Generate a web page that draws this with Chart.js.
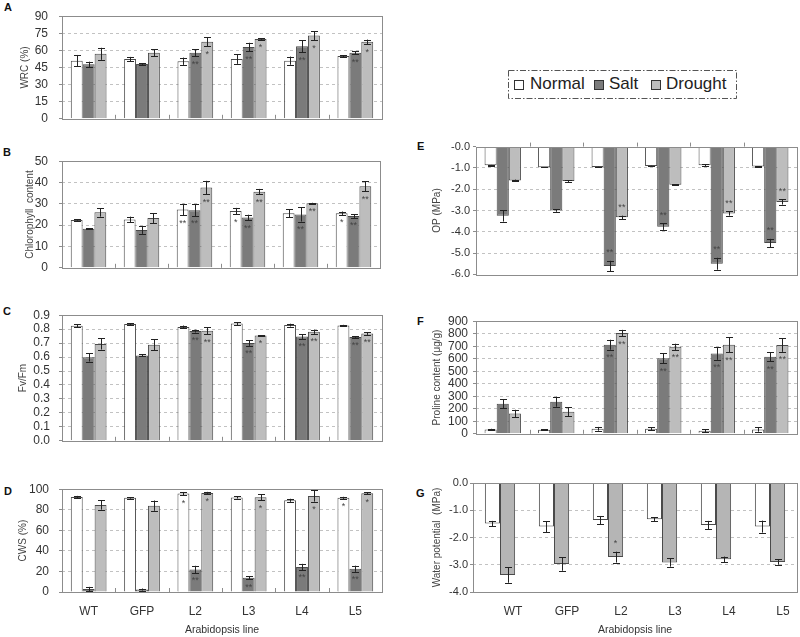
<!DOCTYPE html>
<html>
<head>
<meta charset="utf-8">
<script src="https://cdn.jsdelivr.net/npm/chart.js@4.4.1/dist/chart.umd.min.js"></script>
<style>
  html, body { margin: 0; padding: 0; background: #fff; }
  #fig { position: relative; width: 800px; height: 637px; overflow: hidden; font-family: "Liberation Sans", Arial, sans-serif; }
  #fig canvas { position: absolute; }
  .tag { position: absolute; font-weight: bold; font-size: 11px; line-height: 11px; color: #111; }
  .leg-sq { position: absolute; width: 8px; height: 8px; border: 1px solid #333; }
  .leg-tx { position: absolute; font-size: 17px; line-height: 17px; color: #222; }
</style>
</head>
<body>
<div id="fig">
  <div class="tag" style="left:4px;top:2px">A</div>
  <div class="tag" style="left:3px;top:147px">B</div>
  <div class="tag" style="left:3px;top:306px">C</div>
  <div class="tag" style="left:4px;top:486px">D</div>
  <div class="tag" style="left:417px;top:141px">E</div>
  <div class="tag" style="left:417px;top:316px">F</div>
  <div class="tag" style="left:416px;top:488px">G</div>

  <svg style="position:absolute;left:507px;top:69px" width="232" height="32">
    <rect x="1.5" y="1.5" width="228" height="28" fill="none" stroke="#555" stroke-width="1" stroke-dasharray="6 2 1.5 2"/>
  </svg>
  <div class="leg-sq" style="left:514px;top:80px;background:#fff"></div>
  <div class="leg-tx" style="left:530px;top:75px">Normal</div>
  <div class="leg-sq" style="left:594px;top:80px;background:#7b7b7b"></div>
  <div class="leg-tx" style="left:609px;top:75px">Salt</div>
  <div class="leg-sq" style="left:651px;top:80px;background:#bdbdbd"></div>
  <div class="leg-tx" style="left:666px;top:75px">Drought</div>
</div>

<script>
const lines = ['WT', 'GFP', 'L2', 'L3', 'L4', 'L5'];

// A: WRC (%)
const wrcNormal = [51, 52.5, 50.5, 52.5, 51, 55];
const wrcNormalErr = [5, 1.8, 3.2, 4.3, 3.6, 0.9];
const wrcSalt = [47.8, 48, 58, 63, 63.6, 58];
const wrcSaltErr = [2.3, 0.7, 3, 3.7, 5.2, 1.5];
const wrcDrought = [57, 58, 67.5, 70, 73, 67.5];
const wrcDroughtErr = [5.3, 3, 4, 0.7, 4, 2];
const wrcSaltStars = ['', '', '**', '**', '**', '**'];
const wrcDroughtStars = ['', '', '*', '*', '*', '*'];

// B: chlorophyll content
const chlNormal = [22.4, 22.7, 27.3, 26.6, 25.6, 25.6];
const chlNormalErr = [0.3, 1.3, 2.7, 1.5, 1.8, 0.8];
const chlSalt = [18.3, 17.7, 27, 23.6, 25, 24.3];
const chlSaltErr = [0.2, 1.8, 2.7, 1.3, 3.3, 0.9];
const chlDrought = [26, 23.3, 37.7, 35.7, 30.3, 38.3];
const chlDroughtErr = [2, 2.3, 3.1, 1.3, 0.2, 2.3];
const chlNormalStars = ['', '', '**', '*', '', '*'];
const chlSaltStars = ['', '', '**', '**', '**', '**'];
const chlDroughtStars = ['', '', '**', '**', '**', '**'];

// C: Fv/Fm
const fvNormal = [0.825, 0.837, 0.816, 0.84, 0.829, 0.826];
const fvNormalErr = [0.01, 0.007, 0.01, 0.01, 0.01, 0.005];
const fvSalt = [0.598, 0.612, 0.786, 0.70, 0.747, 0.743];
const fvSaltErr = [0.03, 0.007, 0.01, 0.02, 0.017, 0.005];
const fvDrought = [0.694, 0.688, 0.788, 0.754, 0.781, 0.769];
const fvDroughtErr = [0.04, 0.04, 0.025, 0.003, 0.015, 0.01];
const fvSaltStars = ['', '', '**', '**', '**', '**'];
const fvDroughtStars = ['', '', '**', '*', '**', '**'];

// D: CWS (%)
const cwsNormal = [92.5, 91.6, 95.8, 91.9, 89.2, 91.6];
const cwsNormalErr = [1, 0.8, 1.5, 1, 1.5, 1];
const cwsSalt = [3, 2.4, 22, 13.9, 24.4, 22.6];
const cwsSaltErr = [2, 1, 3.5, 1.5, 3, 3];
const cwsDrought = [84.6, 84, 96.4, 92.2, 93.4, 96.1];
const cwsDroughtErr = [4.5, 5, 1, 3, 5.5, 1];
const cwsNormalStars = ['', '', '*', '', '', '*'];
const cwsSaltStars = ['', '', '**', '**', '**', '**'];
const cwsDroughtStars = ['', '', '*', '*', '*', '*'];

// E: OP (MPa)
const opNormal = [-0.88, -0.97, -0.96, -0.91, -0.87, -0.93];
const opNormalErr = [0.02, 0.01, 0.01, 0.01, 0.04, 0.01];
const opSalt = [-3.25, -3.0, -5.61, -3.76, -5.5, -4.53];
const opSaltErr = [0.27, 0.06, 0.25, 0.15, 0.28, 0.2];
const opDrought = [-1.59, -1.62, -3.32, -1.79, -3.14, -2.6];
const opDroughtErr = [0.04, 0.04, 0.08, 0.02, 0.1, 0.12];
const opSaltStars = ['', '', '**', '**', '**', '**'];
const opDroughtStars = ['', '', '**', '', '**', '**'];

// F: proline content
const proNormal = [35, 33, 40, 40, 25, 35];
const proNormalErr = [5, 5, 15, 12, 12, 18];
const proSalt = [241, 256, 712, 603, 641, 616];
const proSaltErr = [35, 40, 40, 40, 50, 35];
const proDrought = [162, 177, 806, 695, 712, 710];
const proDroughtErr = [30, 35, 25, 25, 60, 55];
const proSaltStars = ['', '', '**', '**', '**', '**'];
const proDroughtStars = ['', '', '**', '**', '**', '**'];

// G: water potential
const wpNormal = [-1.49, -1.6, -1.36, -1.33, -1.54, -1.6];
const wpNormalErr = [0.1, 0.2, 0.15, 0.07, 0.15, 0.22];
const wpDrought = [-3.38, -2.97, -2.72, -2.92, -2.8, -2.9];
const wpDroughtErr = [0.28, 0.25, 0.2, 0.15, 0.1, 0.1];
const wpDroughtStars = ['', '', '*', '', '', ''];

const noStars = ['', '', '', '', '', ''];

Chart.defaults.font.family = '"Liberation Sans", Arial, sans-serif';
Chart.defaults.color = '#333';

// error bars, significance marks, plot frame and group ticks
const panelFrame = {
  id: 'panelFrame',
  afterDatasetsDraw(chart, args, opts) {
    const { ctx, chartArea: a, scales: { x, y } } = chart;
    ctx.save();
    ctx.lineWidth = 1;

    chart.data.datasets.forEach((ds, di) => {
      const meta = chart.getDatasetMeta(di);
      meta.data.forEach((bar, i) => {
        const v = ds.data[i];
        const e = ds.errors[i];
        const bx = Math.round(bar.x) + 0.5;
        const yHi = y.getPixelForValue(v + e);
        const yLo = y.getPixelForValue(v - e);
        ctx.strokeStyle = '#222';
        ctx.beginPath();
        ctx.moveTo(bx, yHi);
        ctx.lineTo(bx, yLo);
        ctx.moveTo(bx - 3.5, Math.round(yHi) + 0.5);
        ctx.lineTo(bx + 3.5, Math.round(yHi) + 0.5);
        ctx.moveTo(bx - 3.5, Math.round(yLo) + 0.5);
        ctx.lineTo(bx + 3.5, Math.round(yLo) + 0.5);
        ctx.stroke();

        const mark = ds.stars[i];
        if (mark) {
          const dir = v >= 0 ? 1 : -1;
          const inner = y.getPixelForValue(v >= 0 ? v - e : v + e);
          ctx.fillStyle = '#444';
          ctx.font = '9px "Liberation Sans", Arial, sans-serif';
          ctx.textAlign = 'center';
          ctx.textBaseline = 'middle';
          ctx.fillText(mark, bar.x, inner + dir * 8);
        }
      });
    });

    ctx.strokeStyle = '#8c8c8c';
    ctx.strokeRect(Math.round(a.left) + 0.5, Math.round(a.top) + 0.5,
      Math.round(a.right - a.left), Math.round(a.bottom - a.top));

    if (opts.ticks) {
      ctx.beginPath();
      for (let i = 0; i < lines.length - 1; i++) {
        const gx = Math.round((x.getPixelForValue(i) + x.getPixelForValue(i + 1)) / 2) + 0.5;
        if (opts.ticks === 'in') {
          ctx.moveTo(gx, a.bottom);
          ctx.lineTo(gx, a.bottom - 4);
        } else {
          ctx.moveTo(gx, a.top);
          ctx.lineTo(gx, a.top - 4);
        }
      }
      ctx.stroke();
    }
    ctx.restore();
  }
};

function barSet(label, data, errors, stars, fill) {
  return {
    label,
    data,
    errors,
    stars,
    backgroundColor: fill,
    borderColor: '#4a4a4a',
    borderWidth: 1
  };
}

function buildPanel(p) {
  const fig = document.getElementById('fig');
  const canvas = document.createElement('canvas');
  const [pl, pt, pr, pb] = p.plot;
  const top = pt - 9;
  const height = pb + p.bottom - top;
  canvas.width = 400;
  canvas.height = height;
  canvas.style.left = p.col + 'px';
  canvas.style.top = top + 'px';
  canvas.style.width = '400px';
  canvas.style.height = height + 'px';
  fig.appendChild(canvas);

  new Chart(canvas.getContext('2d'), {
    type: 'bar',
    data: { labels: lines, datasets: p.datasets },
    plugins: [panelFrame],
    options: {
      responsive: false,
      animation: false,
      devicePixelRatio: 1,
      layout: { padding: { top: 9, right: p.col + 400 - pr, left: 0, bottom: 0 } },
      datasets: { bar: { categoryPercentage: p.groupPct, barPercentage: 1 } },
      plugins: {
        legend: { display: false },
        tooltip: { enabled: false },
        panelFrame: { ticks: p.groupTicks }
      },
      scales: {
        x: {
          grid: { display: false, drawTicks: false },
          border: { display: false },
          ticks: {
            display: p.showLabels,
            padding: 12,
            maxRotation: 0,
            labelOffset: p.labelOffset || 0,
            font: { size: 12 },
            color: '#333'
          },
          title: {
            display: p.showLabels,
            text: 'Arabidopsis line',
            font: { size: 10.5 },
            color: '#333',
            padding: { top: 0, bottom: 1 }
          },
          afterFit: s => { s.height = p.bottom; }
        },
        y: {
          min: p.yMin,
          max: p.yMax,
          grid: {
            color: c => (c.index === 0 || c.index === c.scale.ticks.length - 1) ? 'rgba(0,0,0,0)' : '#c2c2c2',
            tickColor: '#8c8c8c',
            tickLength: 3
          },
          border: { display: false, dash: [3, 3] },
          ticks: {
            stepSize: p.step,
            autoSkip: false,
            padding: p.tickPad,
            font: { size: p.tickSize },
            color: '#333',
            callback: p.fmt
          },
          title: {
            display: true,
            text: p.yTitle,
            font: { size: 10 },
            color: '#444',
            padding: { top: p.titleX - 6, bottom: 0 }
          },
          afterFit: s => { s.width = pl - p.col; }
        }
      }
    }
  });
}

const white = '#ffffff';
const dark = '#7b7b7b';
const light = '#bdbdbd';

buildPanel({
  col: 0, plot: [62, 7, 382, 128], bottom: 9,
  yMin: 0, yMax: 90, step: 15, fmt: v => v, tickPad: 11, tickSize: 12,
  yTitle: 'WRC (%)', titleX: 25, groupPct: 0.67, groupTicks: 'in', showLabels: false,
  datasets: [
    barSet('Normal', wrcNormal, wrcNormalErr, noStars, white),
    barSet('Salt', wrcSalt, wrcSaltErr, wrcSaltStars, dark),
    barSet('Drought', wrcDrought, wrcDroughtErr, wrcDroughtStars, light)
  ]
});

buildPanel({
  col: 0, plot: [62, 152, 380, 277], bottom: 9,
  yMin: 0, yMax: 50, step: 10, fmt: v => v, tickPad: 11, tickSize: 12,
  yTitle: 'Chlorophyll  content', titleX: 30, groupPct: 0.67, groupTicks: 'in', showLabels: false,
  datasets: [
    barSet('Normal', chlNormal, chlNormalErr, chlNormalStars, white),
    barSet('Salt', chlSalt, chlSaltErr, chlSaltStars, dark),
    barSet('Drought', chlDrought, chlDroughtErr, chlDroughtStars, light)
  ]
});

buildPanel({
  col: 0, plot: [62, 308, 382, 448], bottom: 9,
  yMin: 0, yMax: 0.9, step: 0.1, fmt: v => v.toFixed(1), tickPad: 9, tickSize: 12,
  yTitle: 'Fv/Fm', titleX: 23, groupPct: 0.67, groupTicks: 'in', showLabels: false,
  datasets: [
    barSet('Normal', fvNormal, fvNormalErr, noStars, white),
    barSet('Salt', fvSalt, fvSaltErr, fvSaltStars, dark),
    barSet('Drought', fvDrought, fvDroughtErr, fvDroughtStars, light)
  ]
});

buildPanel({
  col: 0, plot: [62, 481, 382, 592], bottom: 45,
  yMin: 0, yMax: 100, step: 20, fmt: v => v, tickPad: 10, tickSize: 12,
  yTitle: 'CWS (%)', titleX: 23, groupPct: 0.67, groupTicks: 'in', showLabels: true,
  datasets: [
    barSet('Normal', cwsNormal, cwsNormalErr, cwsNormalStars, white),
    barSet('Salt', cwsSalt, cwsSaltErr, cwsSaltStars, dark),
    barSet('Drought', cwsDrought, cwsDroughtErr, cwsDroughtStars, light)
  ]
});

buildPanel({
  col: 400, plot: [476, 146, 797, 275], bottom: 9,
  yMin: -6, yMax: 0, step: 1, fmt: v => (v === 0 ? '-0.0' : v.toFixed(1)), tickPad: 3, tickSize: 11,
  yTitle: 'OP (MPa)', titleX: 37, groupPct: 0.68, groupTicks: 'out', showLabels: false,
  datasets: [
    barSet('Normal', opNormal, opNormalErr, noStars, white),
    barSet('Salt', opSalt, opSaltErr, opSaltStars, dark),
    barSet('Drought', opDrought, opDroughtErr, opDroughtStars, light)
  ]
});

buildPanel({
  col: 400, plot: [476, 318, 797, 437], bottom: 9,
  yMin: 0, yMax: 900, step: 100, fmt: v => v, tickPad: 5, tickSize: 12,
  yTitle: 'Proline content (μg/g)', titleX: 37, groupPct: 0.68, groupTicks: 'in', showLabels: false,
  datasets: [
    barSet('Normal', proNormal, proNormalErr, noStars, white),
    barSet('Salt', proSalt, proSaltErr, proSaltStars, dark),
    barSet('Drought', proDrought, proDroughtErr, proDroughtStars, light)
  ]
});

buildPanel({
  col: 400, plot: [473, 483, 797, 592], bottom: 45,
  yMin: -4, yMax: 0, step: 1, fmt: v => v.toFixed(1), tickPad: 2, tickSize: 11,
  yTitle: 'Water potential  (MPa)', titleX: 37, groupPct: 0.56, groupTicks: false, showLabels: true,
  labelOffset: 13,
  datasets: [
    barSet('Normal', wpNormal, wpNormalErr, noStars, white),
    barSet('Drought', wpDrought, wpDroughtErr, wpDroughtStars, '#b5b5b5')
  ]
});
</script>
</body>
</html>
